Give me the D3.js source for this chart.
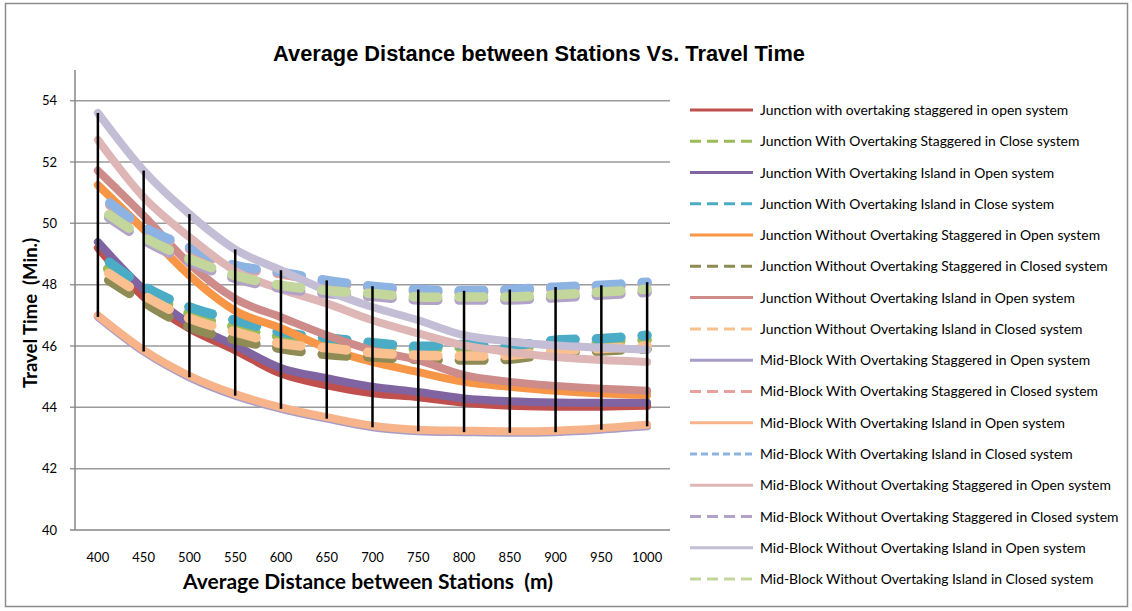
<!DOCTYPE html>
<html>
<head>
<meta charset="utf-8">
<script src="https://cdn.jsdelivr.net/npm/d3@7"></script>
<style>
  body { margin: 0; background: #fff; }
  svg { display: block; }
</style>
</head>
<body>
<div id="chart"></div>
<script>
// categories (x axis)
const distances = [400, 450, 500, 550, 600, 650, 700, 750, 800, 850, 900, 950, 1000];
const yTicks = [40, 42, 44, 46, 48, 50, 52, 54];

const seriesNames = [
    "Junction with overtaking staggered in open system",
    "Junction With Overtaking Staggered in Close system",
    "Junction With Overtaking Island in Open system",
    "Junction With Overtaking Island in Close system",
    "Junction Without Overtaking Staggered in Open system",
    "Junction Without Overtaking Staggered in Closed system",
    "Junction Without Overtaking Island in Open system",
    "Junction Without Overtaking Island in Closed system",
    "Mid-Block With Overtaking Staggered in Open system",
    "Mid-Block With Overtaking Staggered in Closed system",
    "Mid-Block With Overtaking Island in Open system",
    "Mid-Block With Overtaking Island in Closed system",
    "Mid-Block Without Overtaking Staggered in Open system",
    "Mid-Block Without Overtaking Staggered in Closed system",
    "Mid-Block Without Overtaking Island in Open system",
    "Mid-Block Without Overtaking Island in Closed system"
];

// travel time (min.) for each series
const junctionWithStagOpen   = [49.2, 47.6, 46.57, 45.86, 45.1, 44.72, 44.46, 44.33, 44.15, 44.05, 44.02, 44.02, 44.05];
const junctionWithStagClose  = [48.72, 47.8, 47.06, 46.62, 46.3, 46.13, 46.0, 45.9, 45.95, 45.95, 46.02, 46.13, 46.2];
const junctionWithIslOpen    = [49.39, 47.85, 46.74, 46.02, 45.28, 44.95, 44.67, 44.5, 44.29, 44.2, 44.16, 44.15, 44.15];
const junctionWithIslClose   = [49.02, 47.95, 47.27, 46.84, 46.45, 46.27, 46.11, 45.99, 46.05, 46.0, 46.19, 46.24, 46.35];
const junctionWoStagOpen     = [51.25, 49.8, 48.3, 47.15, 46.58, 45.93, 45.48, 45.15, 44.83, 44.67, 44.54, 44.45, 44.4];
const junctionWoStagClosed   = [48.37, 47.43, 46.62, 46.21, 45.92, 45.72, 45.64, 45.56, 45.54, 45.57, 45.76, 45.84, 45.9];
const junctionWoIslOpen      = [51.72, 50.25, 48.68, 47.54, 46.94, 46.35, 45.86, 45.54, 45.05, 44.83, 44.7, 44.61, 44.54];
const junctionWoIslClosed    = [48.6, 47.65, 46.9, 46.46, 46.08, 45.94, 45.78, 45.7, 45.67, 45.7, 45.84, 45.92, 46.0];
const midWithStagOpen        = [46.95, 45.82, 44.98, 44.38, 43.95, 43.63, 43.35, 43.22, 43.19, 43.17, 43.19, 43.27, 43.38];
const midWithStagClosed      = [50.9, 49.82, 49.16, 48.57, 48.35, 48.08, 47.89, 47.78, 47.74, 47.78, 47.86, 47.92, 48.02];
const midWithIslOpen         = [47.0, 45.87, 45.03, 44.43, 44.0, 43.68, 43.4, 43.27, 43.24, 43.22, 43.24, 43.32, 43.43];
const midWithIslClosed       = [50.97, 49.88, 49.22, 48.63, 48.41, 48.14, 47.95, 47.84, 47.8, 47.84, 47.92, 47.98, 48.08];
const midWoStagOpen          = [52.72, 50.85, 49.55, 48.45, 47.85, 47.39, 46.84, 46.41, 46.02, 45.8, 45.64, 45.54, 45.48];
const midWoStagClosed        = [50.43, 49.45, 48.74, 48.2, 47.88, 47.71, 47.61, 47.5, 47.5, 47.5, 47.57, 47.66, 47.75];
const midWoIslOpen           = [53.6, 51.72, 50.3, 49.15, 48.47, 47.8, 47.27, 46.84, 46.35, 46.15, 46.02, 45.95, 45.88];
const midWoIslClosed         = [50.53, 49.55, 48.84, 48.3, 47.98, 47.81, 47.71, 47.6, 47.6, 47.6, 47.67, 47.76, 47.85];

const seriesValues = [
    junctionWithStagOpen, junctionWithStagClose, junctionWithIslOpen, junctionWithIslClose,
    junctionWoStagOpen, junctionWoStagClosed, junctionWoIslOpen, junctionWoIslClosed,
    midWithStagOpen, midWithStagClosed, midWithIslOpen, midWithIslClosed,
    midWoStagOpen, midWoStagClosed, midWoIslOpen, midWoIslClosed
];

const colors = ["#C0504D", "#9BBB59", "#8064A2", "#4BACC6", "#F79646", "#8E8B55", "#CD8B89", "#FAC090",
                "#A89CC8", "#E6A19F", "#F7B48A", "#8DB3E2", "#DDB6B5", "#B3A2C7", "#C3BDD5", "#C3D69B"];
const dashed = [false, true, false, true, false, true, false, true,
                false, true, false, true, false, true, false, true];

const W = 1132, H = 611;
const plot = { left: 75, right: 670, top: 70, bottom: 530 };

const svg = d3.select('#chart').append('svg')
    .attr('width', W)
    .attr('height', H);

// outer chart border
svg.append('rect')
    .attr('x', 5.5).attr('y', 3.5)
    .attr('width', 1122).attr('height', 603)
    .attr('fill', '#fff')
    .attr('stroke', '#8c8c8c')
    .attr('stroke-width', 1.5);

const x = d3.scaleBand()
    .domain(distances)
    .range([plot.left, plot.right]);
const cx = d => x(d) + x.bandwidth() / 2;

const y = d3.scaleLinear()
    .domain([40, 55])
    .range([plot.bottom, plot.top]);

// gridlines
svg.append('g')
    .selectAll('line')
    .data(yTicks)
    .enter()
    .append('line')
    .attr('x1', plot.left - 5)
    .attr('x2', plot.right)
    .attr('y1', d => y(d))
    .attr('y2', d => y(d))
    .attr('stroke', d => d === 40 ? '#868686' : '#9a9a9a')
    .attr('stroke-width', 1.5);

// y axis line
svg.append('line')
    .attr('x1', plot.left).attr('x2', plot.left)
    .attr('y1', plot.top).attr('y2', plot.bottom)
    .attr('stroke', '#868686')
    .attr('stroke-width', 1.5);

// y tick labels
svg.append('g')
    .selectAll('text')
    .data(yTicks)
    .enter()
    .append('text')
    .attr('x', 57)
    .attr('y', d => y(d) + 4.5)
    .attr('text-anchor', 'end')
    .style('font-family', 'Lato, sans-serif')
    .style('font-size', '13px')
    .style('fill', '#000')
    .text(d => d);

// x tick labels
svg.append('g')
    .selectAll('text')
    .data(distances)
    .enter()
    .append('text')
    .attr('x', d => cx(d))
    .attr('y', 562)
    .attr('text-anchor', 'middle')
    .style('font-family', 'Lato, sans-serif')
    .style('font-size', '13px')
    .style('fill', '#000')
    .text(d => d);

// series lines
const line = d3.line()
    .x((d, i) => cx(distances[i]))
    .y(d => y(d))
    .curve(d3.curveCardinal.tension(0));

const dashOn = 24.5, dashOff = 21.3;
const period = dashOn + dashOff;

// path length where the path reaches a given x
function lengthAtX(node, targetX) {
    let lo = 0, hi = node.getTotalLength();
    for (let n = 0; n < 40; n++) {
        const mid = (lo + hi) / 2;
        if (node.getPointAtLength(mid).x < targetX) lo = mid; else hi = mid;
    }
    return lo;
}

const seriesG = svg.append('g');
seriesValues.forEach((vals, k) => {
    const p = seriesG.append('path')
        .datum(vals)
        .attr('d', line)
        .attr('fill', 'none')
        .attr('stroke', colors[k])
        .attr('stroke-width', dashed[k] ? 9.5 : 8)
        .attr('stroke-linecap', 'round')
        .attr('stroke-linejoin', 'round');
    if (dashed[k]) {
        // dash starts a few px before the 900 m point, like the original
        const start = lengthAtX(p.node(), cx(900)) - 5;
        const offset = ((-start % period) + period) % period;
        p.attr('stroke-dasharray', `${dashOn},${dashOff}`)
            .attr('stroke-dashoffset', offset);
    }
});

// high-low lines
svg.append('g')
    .selectAll('line')
    .data(distances)
    .enter()
    .append('line')
    .attr('x1', d => cx(d))
    .attr('x2', d => cx(d))
    .attr('y1', (d, i) => y(d3.max(seriesValues, s => s[i])))
    .attr('y2', (d, i) => y(d3.min(seriesValues, s => s[i])))
    .attr('stroke', '#000')
    .attr('stroke-width', 2.5);

// title
svg.append('text')
    .attr('x', 539)
    .attr('y', 61)
    .attr('text-anchor', 'middle')
    .style('font-family', '"Liberation Sans", Arial, sans-serif')
    .style('font-weight', 'bold')
    .style('font-size', '21.8px')
    .text('Average Distance between Stations Vs. Travel Time');

// axis titles
svg.append('text')
    .attr('x', 368)
    .attr('y', 589)
    .attr('text-anchor', 'middle')
    .style('font-family', 'Lato, sans-serif')
    .style('font-weight', 'bold')
    .style('font-size', '21px')
    .style('white-space', 'pre')
    .text('Average Distance between Stations  (m)');

svg.append('text')
    .attr('transform', 'translate(37,313) rotate(-90)')
    .attr('text-anchor', 'middle')
    .style('font-family', 'Lato, sans-serif')
    .style('font-weight', 'bold')
    .style('font-size', '18.5px')
    .style('white-space', 'pre')
    .text('Travel Time  (Min.)');

// legend
const legend = svg.append('g')
    .selectAll('g')
    .data(seriesNames)
    .enter()
    .append('g')
    .attr('transform', (d, i) => `translate(690, ${110 + i * 31.27})`);

legend.append('line')
    .attr('x1', 0).attr('x2', 63)
    .attr('y1', 0).attr('y2', 0)
    .attr('stroke', (d, i) => colors[i])
    .attr('stroke-width', 3)
    .attr('stroke-dasharray', (d, i) => dashed[i] ? (i === 11 ? '7,4' : '11,6') : null);

legend.append('text')
    .attr('x', 70)
    .attr('y', 5)
    .style('font-family', 'Lato, sans-serif')
    .style('font-size', '13.9px')
    .style('fill', '#000')
    .text(d => d);
</script>
</body>
</html>
